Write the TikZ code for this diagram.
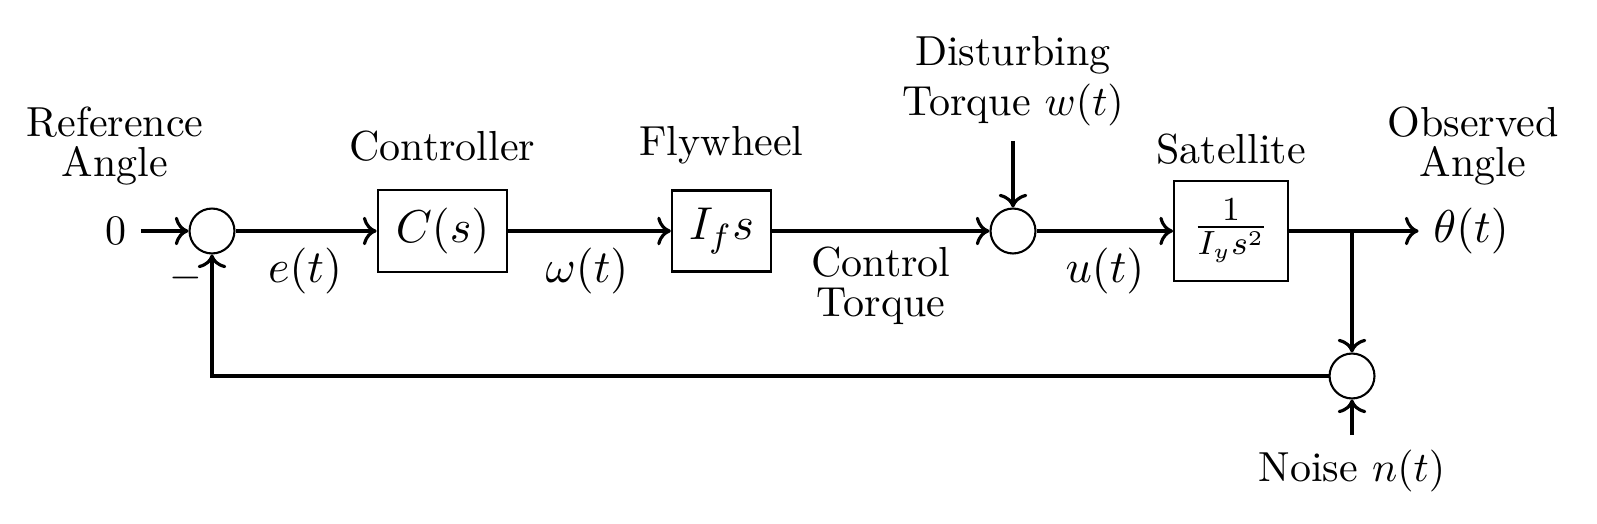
\documentclass[tikz,border=0pt]{standalone}
\usetikzlibrary{arrows.meta}
\begin{document}
\begin{tikzpicture}[x=0.2381pt,y=-0.2381pt,
  block/.style={draw, line width=0.5pt, inner sep=0pt, font=\fontsize{10.9}{13}\selectfont},
  sumnode/.style={draw, circle, line width=0.5pt, minimum size=10.7pt, inner sep=0pt},
  conn/.style={line width=0.75pt, ->},
  lbl/.style={align=center},
  mlbl/.style={font=\fontsize{10.5}{12.5}\selectfont},
  tight/.style={align=center, font=\fontsize{10}{9.5}\selectfont}]
\useasboundingbox (0,0) rectangle (1597,523);
% nodes
\node[tight] (reflbl) at (115,146) {Reference\\Angle};
\node (ref) at (115.5,231) {$0$};
\node[sumnode] (s1) at (212,231) {};
\node[block, minimum width=30.9pt, minimum height=19.5pt] (C) at (442.5,231) {$C(s)$};
\node[lbl] (ctrl) at (442.5,146) {Controller};
\node[block, minimum width=23.6pt, minimum height=19.3pt] (F) at (721.5,231) {$I_f s$};
\node[lbl] (fly) at (721.5,145) {Flywheel};
\node[sumnode] (s2) at (1013,231) {};
\node[lbl] (dist) at (1013,81) {Disturbing\\Torque $w(t)$};
\node[block, minimum width=27.1pt, minimum height=23.8pt] (S) at (1231,231) {$\frac{1}{I_y s^2}$};
\node[lbl] (sat) at (1231,149) {Satellite};
\node[mlbl] (out) at (1471,231) {$\theta(t)$};
\node[tight] (obs) at (1473,146) {Observed\\Angle};
\coordinate (br) at (1352,231);
\node[sumnode] (s3) at (1352,376) {};
\node (noise) at (1352,471) {Noise $n(t)$};
% edge labels
\node[mlbl] (e) at (305,271) {$e(t)$};
\node (minus) at (186,278) {$-$};
\node[mlbl] (w) at (587,271) {$\omega(t)$};
\node[tight] (ct) at (881,286) {Control\\Torque};
\node[mlbl] (u) at (1105,271) {$u(t)$};
% connectors
\draw[conn] (ref) -- (s1);
\draw[conn] (s1) -- (C);
\draw[conn] (C) -- (F);
\draw[conn] (F) -- (s2);
\draw[conn] (dist) -- (s2);
\draw[conn] (s2) -- (S);
\draw[conn] (S) -- (out);
\draw[conn] (br) -- (s3);
\draw[conn] (noise) -- (s3);
\draw[conn] (s3) -| (s1);
\end{tikzpicture}
\end{document}
